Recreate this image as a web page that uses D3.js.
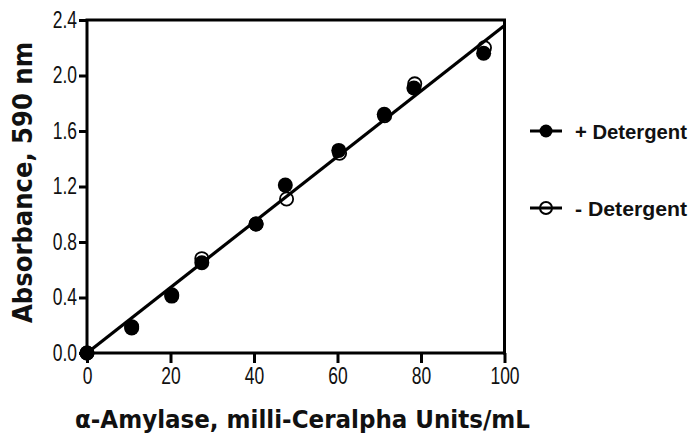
<!DOCTYPE html>
<html>
<head>
<meta charset="utf-8">
<script src="https://cdn.jsdelivr.net/npm/d3@7"></script>
<style>
  html, body { margin: 0; padding: 0; background: #fff; }
  svg { display: block; }
</style>
</head>
<body>
<svg id="chart" width="691" height="434"></svg>
<script>
// ---- data ----
const xTicks = [0, 20, 40, 60, 80, 100];
const yTicks = [0.0, 0.4, 0.8, 1.2, 1.6, 2.0, 2.4];

const plusX  = [0, 10.7, 20.3, 27.5, 40.5, 47.5, 60.3, 71.2, 78.3, 95.0];
const plusY  = [0, 0.18, 0.41, 0.65, 0.93, 1.21, 1.46, 1.72, 1.91, 2.16];
const minusX = [0, 10.7, 20.3, 27.5, 40.5, 47.8, 60.5, 71.3, 78.5, 95.2];
const minusY = [0, 0.19, 0.42, 0.68, 0.93, 1.11, 1.44, 1.71, 1.94, 2.20];

const fitX = [0, 100];
const fitY = [0.0, 2.36];

const seriesNames = ["+ Detergent", "- Detergent"];
const xTitle = "\u03B1-Amylase, milli-Ceralpha Units/mL";
const yTitle = "Absorbance, 590 nm";

(function () {
// ---- layout ----
const svg = d3.select("#chart");
const pLeft = 87, pRight = 504.5, pTop = 20, pBottom = 353;

const x = d3.scaleLinear().domain([0, 100]).range([pLeft, pRight]);
const y = d3.scaleLinear().domain([0, 2.4]).range([pBottom, pTop]);

const axisFont = "'Liberation Sans', Arial, Helvetica, sans-serif";
const sx = 0.76;

// frame (top & right)
svg.append("path")
  .attr("d", `M${pLeft},${pTop}H${pRight}V${pBottom}`)
  .attr("fill", "none").attr("stroke", "#000").attr("stroke-width", 3)
  .attr("stroke-linecap", "square");

// x axis
const gx = svg.append("g").attr("transform", `translate(0,${pBottom})`)
  .call(d3.axisBottom(x).tickValues(xTicks).tickSize(10).tickPadding(5).tickSizeOuter(0).tickFormat(d3.format("d")));
gx.select(".domain").attr("stroke-width", 3).attr("d", `M${pLeft},0H${pRight}`);
gx.selectAll(".tick line").attr("stroke-width", 3);
gx.selectAll(".tick text")
  .attr("font-family", axisFont).attr("font-size", 23).attr("fill", "#111")
  .attr("transform", `scale(${sx},1)`);

// y axis
const gy = svg.append("g").attr("transform", `translate(${pLeft},0)`)
  .call(d3.axisLeft(y).tickValues(yTicks).tickSize(8).tickPadding(2).tickSizeOuter(0).tickFormat(d3.format(".1f")));
gy.select(".domain").attr("stroke-width", 3).attr("d", `M0,${pBottom}V${pTop}`);
gy.selectAll(".tick line").attr("stroke-width", 3);
gy.selectAll(".tick text")
  .attr("font-family", axisFont).attr("font-size", 23).attr("fill", "#111")
  .attr("x", -10 / sx)
  .attr("transform", `scale(${sx},1)`);

// fit line
const line = d3.line().x(d => x(d[0])).y(d => y(d[1]));
svg.append("path")
  .datum(d3.zip(fitX, fitY))
  .attr("d", line)
  .attr("fill", "none").attr("stroke", "#000").attr("stroke-width", 3.2);

// points
svg.append("g").selectAll("circle")
  .data(d3.zip(plusX, plusY)).join("circle")
  .attr("cx", d => x(d[0])).attr("cy", d => y(d[1])).attr("r", 7.5)
  .attr("fill", "#000");

svg.append("g").selectAll("circle")
  .data(d3.zip(minusX, minusY)).join("circle")
  .attr("cx", d => x(d[0])).attr("cy", d => y(d[1])).attr("r", 6.6)
  .attr("fill", "none").attr("stroke", "#000").attr("stroke-width", 1.8);

// axis titles
svg.append("text")
  .attr("x", 75).attr("y", 428)
  .attr("font-family", "'DejaVu Sans', Verdana, sans-serif")
  .attr("font-weight", "bold").attr("font-size", 24).attr("fill", "#111")
  .attr("textLength", 455).attr("lengthAdjust", "spacingAndGlyphs")
  .text(xTitle);

svg.append("text")
  .attr("transform", "translate(32,182.5) rotate(-90)")
  .attr("text-anchor", "middle")
  .attr("font-family", "'DejaVu Sans', Verdana, sans-serif")
  .attr("font-weight", "bold").attr("font-size", 26).attr("fill", "#111")
  .attr("textLength", 281).attr("lengthAdjust", "spacingAndGlyphs")
  .text(yTitle);

// legend
const legY = [131, 208];
const leg = svg.append("g").selectAll("g")
  .data(seriesNames).join("g")
  .attr("transform", (d, i) => `translate(0,${legY[i]})`);
leg.append("line").attr("x1", 530).attr("x2", 562).attr("y1", 0).attr("y2", 0)
  .attr("stroke", "#000").attr("stroke-width", 3);
leg.append("circle").attr("cx", 546).attr("cy", 0)
  .attr("r", (d, i) => i === 0 ? 6.5 : 6)
  .attr("fill", (d, i) => i === 0 ? "#000" : "none")
  .attr("stroke", "#000").attr("stroke-width", (d, i) => i === 0 ? 0 : 2);
leg.append("text").attr("x", 575).attr("y", 8)
  .attr("font-family", axisFont).attr("font-weight", "bold")
  .attr("font-size", 21).attr("fill", "#111")
  .attr("textLength", 112).attr("lengthAdjust", "spacingAndGlyphs")
  .text(d => d);
})();
</script>
</body>
</html>
